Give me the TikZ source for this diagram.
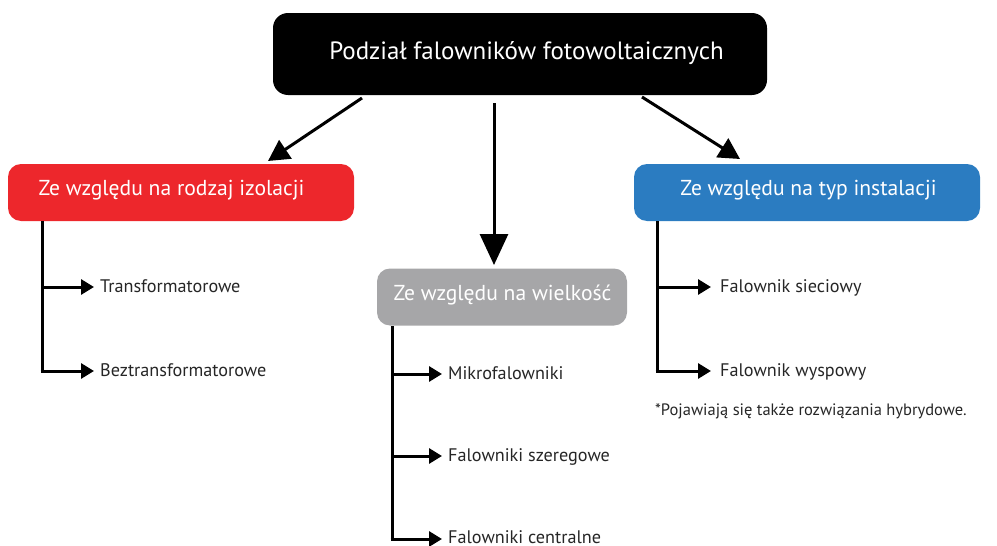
\documentclass[tikz,border=0pt]{standalone}
\usepackage{fontspec}
\setmainfont{PT Sans}
\usetikzlibrary{arrows.meta}
\definecolor{boxred}{RGB}{237,39,44}
\definecolor{boxblue}{RGB}{43,124,193}
\definecolor{boxgray}{RGB}{166,166,168}
\tikzset{
  catbox/.style={rounded corners=13pt, minimum height=57pt, inner sep=0pt},
  cattext/.style={text=white, font=\fontsize{21.6}{25}\selectfont, inner sep=0pt},
  leaf/.style={anchor=west, inner sep=0pt, yshift=-2.5pt, text height=1.6ex, text depth=0.4ex, font=\fontsize{18.2}{21}\selectfont, text=black!85},
  bigarrow/.style={line width=3pt, -{Triangle[length=21pt,width=22pt]}},
  midarrow/.style={line width=3pt, -{Triangle[length=31pt,width=28pt]}},
  brancharrow/.style={line width=3pt, -{Triangle[length=13pt,width=15pt]}},
  trunk/.style={line width=3pt},
}
\begin{document}
\begin{tikzpicture}[x=1pt,y=-1pt]
\useasboundingbox (0,0) rectangle (997,546);
% top
\node[fill=black, rounded corners=15pt, minimum width=494pt, minimum height=82pt, inner sep=0pt,
  label={[text=white, font=\fontsize{25}{29}\selectfont, inner sep=0pt, xshift=6.5pt, yshift=1pt]center:Podział falowników fotowoltaicznych}] (top) at (520,54) {};
% categories
\node[catbox, fill=boxred, minimum width=346pt,
  label={[cattext, xshift=-9.5pt, yshift=2pt]center:Ze względu na rodzaj izolacji}] (red) at (181,192.5) {};
\node[catbox, fill=boxblue, minimum width=346pt,
  label={[cattext, xshift=1.5pt, yshift=2pt]center:Ze względu na typ instalacji}] (blue) at (807,192.5) {};
\node[catbox, fill=boxgray, minimum width=250pt,
  label={[cattext, xshift=0.5pt, yshift=2pt]center:Ze względu na wielkość}] (gray) at (502,297) {};
% main arrows
\coordinate (a1) at (362,98);
\coordinate (a2) at (494,103);
\coordinate (a3) at (642,97);
\coordinate (t1) at (268,161);
\coordinate (t2) at (494,265);
\coordinate (t3) at (740,159);
\draw[bigarrow] (a1) -- (t1);
\draw[midarrow] (a2) -- (t2);
\draw[bigarrow] (a3) -- (t3);
% left branch
\node[leaf] (l1) at (100,287) {Transformatorowe};
\node[leaf] (l2) at (100,371) {Beztransformatorowe};
\coordinate (ls) at (42,221);
\coordinate (lb1) at (42,287);
\coordinate (lb2) at (42,371);
\draw[trunk] (ls) -- (lb2);
\draw[brancharrow] (lb1) -- ([xshift=-6pt]l1.west|-lb1);
\draw[brancharrow] ([xshift=-1.5pt]lb2) -- ([xshift=-6pt]l2.west|-lb2);
% middle branch
\node[leaf] (m1) at (448,374) {Mikrofalowniki};
\node[leaf] (m2) at (448,456) {Falowniki szeregowe};
\node[leaf, text depth=0pt, yshift=1.8pt] (m3) at (448,539) {Falowniki centralne};
\coordinate (ms) at (392,326);
\coordinate (mb1) at (392,374);
\coordinate (mb2) at (392,456);
\coordinate (mb3) at (392,539);
\draw[trunk] (ms) -- (mb3);
\draw[brancharrow] (mb1) -- ([xshift=-6pt]m1.west|-mb1);
\draw[brancharrow] (mb2) -- ([xshift=-6pt]m2.west|-mb2);
\draw[brancharrow] ([xshift=-1.5pt]mb3) -- ([xshift=-6pt]m3.west|-mb3);
% right branch
\node[leaf] (r1) at (720,287) {Falownik sieciowy};
\node[leaf] (r2) at (720,371) {Falownik wyspowy};
\coordinate (rs) at (657,221);
\coordinate (rb1) at (657,287);
\coordinate (rb2) at (657,371);
\draw[trunk] (rs) -- (rb2);
\draw[brancharrow] (rb1) -- ([xshift=-9pt]r1.west|-rb1);
\draw[brancharrow] ([xshift=-1.5pt]rb2) -- ([xshift=-9pt]r2.west|-rb2);
\node[leaf, font=\fontsize{16.5}{19}\selectfont] (note) at (655,410) {*Pojawiają się także rozwiązania hybrydowe.};
\end{tikzpicture}
\end{document}
